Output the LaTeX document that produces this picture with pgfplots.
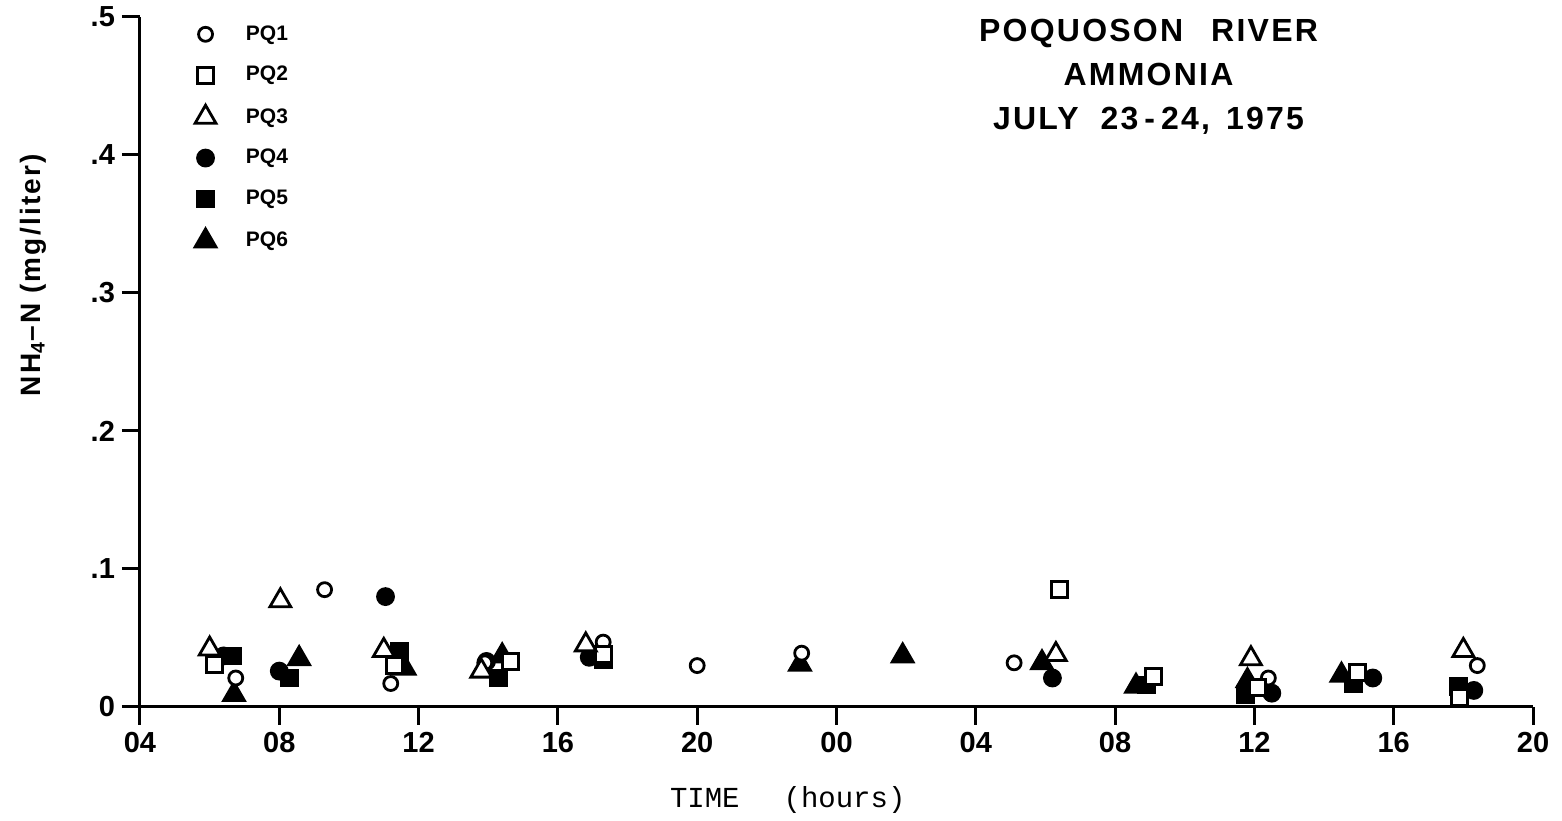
\documentclass[border=0pt]{standalone}
\usepackage{pgfplots}
\pgfplotsset{compat=1.18}
\usepackage{fontspec}
\setmainfont{Liberation Sans}
\newfontfamily\courier{Liberation Mono}
\begin{document}
\begin{tikzpicture}
  \begin{axis}[
      width=696.5pt, height=345pt, scale only axis,
      xmin=4, xmax=44, ymin=0, ymax=0.5,
      axis x line*=bottom, axis y line*=left,
      axis line style={line width=1.5pt, -},
      xtick={4,8,...,44},
      xticklabels={04,08,12,16,20,00,04,08,12,16,20},
      ytick={0,0.1,0.2,0.3,0.4,0.5},
      yticklabels={0,.1,.2,.3,.4,.5},
      tick align=outside, major tick length=9pt,
      tick style={line width=1.5pt, black},
      ticklabel style={font=\bfseries\fontsize{14.5}{16}\selectfont},
      xlabel={\courier\fontsize{14.5}{16}\selectfont TIME\hspace{22pt}(hours)},
      ylabel={\bfseries\addfontfeatures{LetterSpace=8}\fontsize{14}{16}\selectfont NH\textsubscript{4}--N (mg/liter)},
      every axis x label/.style={at={(axis description cs:0.465,-0.135)}, anchor=center},
      every axis y label/.style={at={(axis description cs:-0.0768,0.626)}, anchor=center, rotate=90},
      clip=false,
      legend cell align=left,
      legend style={draw=none, fill=none, at={(0.035,0.997)}, anchor=north west,
        font=\bfseries\fontsize{10.5}{12}\selectfont, row sep=9.6pt,
        nodes={inner sep=1pt},
        /tikz/every odd column/.append style={column sep=14pt}},
      every axis plot/.append style={only marks, line width=1.4pt},
    ]
    % filled series
    \addplot[forget plot, mark=*, mark size=4pt, black] coordinates {
      (6.4,0.037) (8.0,0.026) (11.05,0.080) (13.95,0.033) (16.9,0.036)
      (30.2,0.021) (36.5,0.010) (39.4,0.021) (42.3,0.012)};
    \addplot[forget plot, mark=square*, mark size=4pt, black] coordinates {
      (6.65,0.037) (8.3,0.021) (11.45,0.040) (14.3,0.021) (17.3,0.034)
      (32.9,0.016) (35.75,0.009) (38.85,0.017) (41.85,0.015)};
    \addplot[forget plot, mark=triangle*, mark size=6pt, black] coordinates {
      (6.7,0.009) (8.57,0.035) (11.6,0.028) (14.4,0.037) (17.1,0.036)
      (22.95,0.031) (25.9,0.037) (29.9,0.032) (32.6,0.015) (35.8,0.019)
      (38.5,0.023)};
    % open series
    \addplot[forget plot, mark=*, mark size=3.5pt, black, mark options={fill=white}] coordinates {
      (6.75,0.021) (9.3,0.085) (11.2,0.017) (13.9,0.032) (17.3,0.047)
      (20.0,0.030) (23.0,0.039) (29.1,0.032) (36.4,0.021) (42.4,0.030)};
    \addplot[forget plot, mark=square*, mark size=4pt, black, mark options={fill=white}] coordinates {
      (6.15,0.031) (11.3,0.030) (14.65,0.033) (17.3,0.038) (30.4,0.085)
      (33.1,0.022) (36.1,0.014) (38.95,0.025) (41.9,0.007)};
    \addplot[forget plot, mark=triangle*, mark size=6pt, black, mark options={fill=white}] coordinates {
      (6.0,0.042) (8.03,0.077) (11.0,0.041) (13.8,0.026) (16.8,0.045)
      (30.3,0.038) (35.9,0.035) (42.0,0.041)};
    % legend
    \addlegendimage{only marks, mark=*, mark size=3.5pt, line width=1.4pt, black, mark options={fill=white}}
    \addlegendentry{PQ1}
    \addlegendimage{only marks, mark=square*, mark size=4pt, line width=1.4pt, black, mark options={fill=white}}
    \addlegendentry{PQ2}
    \addlegendimage{only marks, mark=triangle*, mark size=6pt, line width=1.4pt, black, mark options={fill=white}}
    \addlegendentry{PQ3}
    \addlegendimage{only marks, mark=*, mark size=4pt, black}
    \addlegendentry{PQ4}
    \addlegendimage{only marks, mark=square*, mark size=4pt, black}
    \addlegendentry{PQ5}
    \addlegendimage{only marks, mark=triangle*, mark size=6pt, black}
    \addlegendentry{PQ6}
    \node[align=center, anchor=north, font=\bfseries\addfontfeatures{LetterSpace=7}\fontsize{16}{22}\selectfont]
      at ([yshift=2.5pt]rel axis cs:0.724,1.0) {POQUOSON\hspace{14pt}RIVER\\AMMONIA\\JULY\hspace{11pt}23\hspace{3pt}-\hspace{3pt}24,\hspace{8pt}1975};
  \end{axis}
  \path (current axis.south west) ++(-70pt,-56.5pt) coordinate (bbA);
  \path (current axis.north east) ++(14.5pt,8.5pt) coordinate (bbB);
  \useasboundingbox (bbA) rectangle (bbB);
\end{tikzpicture}
\end{document}
